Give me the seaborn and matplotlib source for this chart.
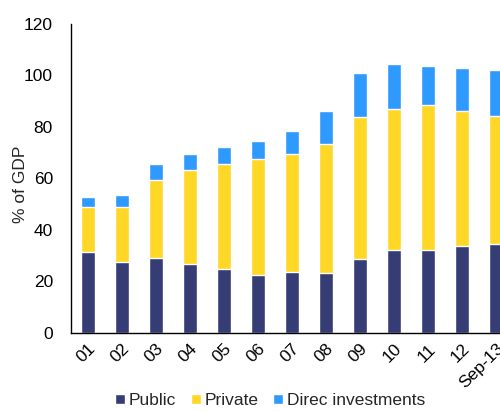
import matplotlib
matplotlib.use("Agg")
import matplotlib.pyplot as plt
import pandas as pd
import seaborn as sns

# Data (% of GDP)
years = ['01', '02', '03', '04', '05', '06', '07', '08', '09', '10', '11', '12', 'Sep-13']
public = [31.6, 27.4, 28.9, 26.9, 25.0, 22.3, 23.7, 23.3, 28.6, 32.2, 32.0, 33.7, 34.7]
private = [17.1, 21.3, 30.5, 36.3, 40.4, 45.1, 45.6, 50.2, 55.3, 54.8, 56.4, 52.3, 49.6]
direc = [4.1, 4.9, 6.2, 6.3, 6.6, 7.2, 9.1, 12.6, 16.9, 17.5, 15.3, 16.9, 17.8]

colors = {'Public': '#363c74', 'Private': '#ffd726', 'Direc investments': '#2e9afe'}

df = pd.DataFrame({'year': years, 'Public': public, 'Private': private, 'Direc investments': direc})
df['lvl1'] = df['Public']
df['lvl2'] = df['Public'] + df['Private']
df['lvl3'] = df['lvl2'] + df['Direc investments']

sns.set_style("white")
plt.rcParams['font.family'] = ['Liberation Sans', 'DejaVu Sans']

fig = plt.figure(figsize=(5, 4.11), dpi=100)
ax = fig.add_axes([0.142, 0.19, 0.858, 0.752])

# stacked bars: draw the totals first, then cover with lower layers
sns.barplot(data=df, x='year', y='lvl3', color=colors['Direc investments'], width=0.41,
            saturation=1, label='Direc investments', ax=ax)
sns.barplot(data=df, x='year', y='lvl2', color=colors['Private'], width=0.41,
            saturation=1, label='Private', ax=ax)
sns.barplot(data=df, x='year', y='lvl1', color=colors['Public'], width=0.41,
            saturation=1, label='Public', ax=ax)

fs = 12.5
ax.set_ylim(0, 120)
ax.set_yticks(range(0, 121, 20))
ax.set_xlim(-0.5, 12.118)
ax.set_xlabel('')
ax.set_ylabel('% of GDP', fontsize=fs)
ax.yaxis.set_label_coords(-0.1, 0.48)
ax.tick_params(axis='both', length=0, labelsize=fs, colors='black')
ax.tick_params(axis='y', pad=13)
ax.tick_params(axis='x', pad=6)
plt.setp(ax.get_xticklabels(), rotation=45, ha='right', rotation_mode='anchor')
for s in ['top', 'right']:
    ax.spines[s].set_visible(False)
for s in ['left', 'bottom']:
    ax.spines[s].set_color('black')
    ax.spines[s].set_linewidth(1)

handles, labels = ax.get_legend_handles_labels()
order = [labels.index(l) for l in ['Public', 'Private', 'Direc investments']]
ax.legend([handles[i] for i in order], [labels[i] for i in order], ncol=3,
          loc='lower center', bbox_to_anchor=(0.54, -0.01), bbox_transform=fig.transFigure,
          frameon=False, fontsize=fs, handlelength=0.57, handleheight=0.57,
          handletextpad=0.2, columnspacing=0.86, borderaxespad=0)

fig.savefig('out.png', dpi=100)
